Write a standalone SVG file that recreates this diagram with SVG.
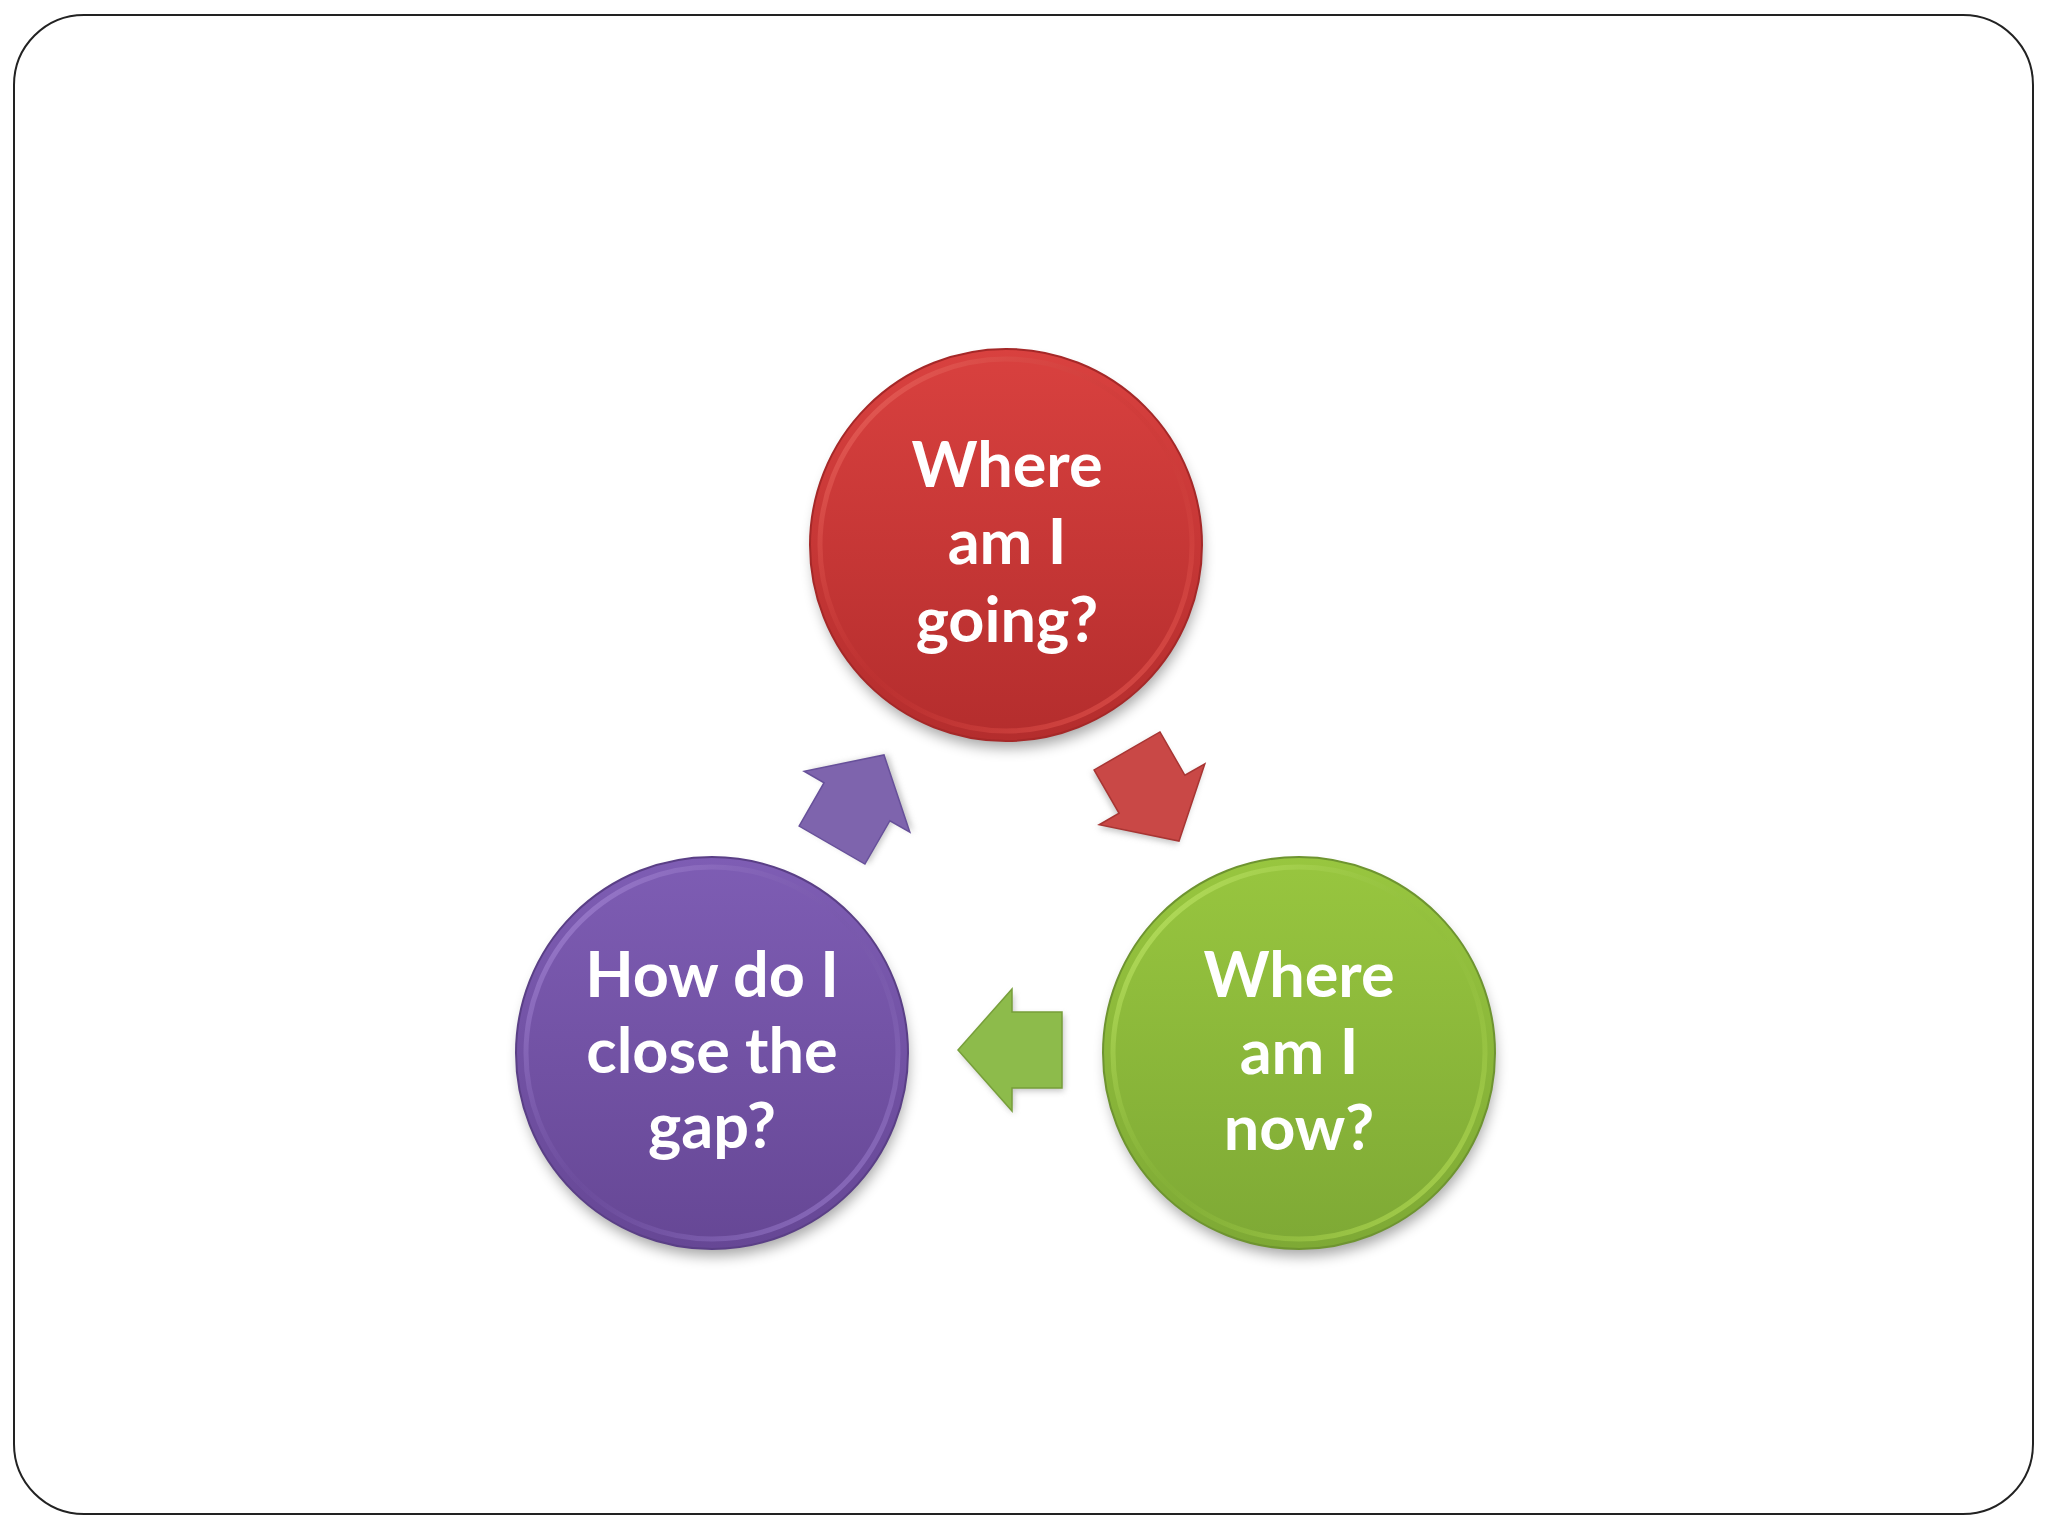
<svg xmlns="http://www.w3.org/2000/svg" width="2048" height="1536" viewBox="0 0 2048 1536">
<defs>
<style>
.lbl{font-family:Lato,"Open Sans","Liberation Sans",sans-serif;font-weight:bold;font-size:63px;fill:#ffffff;text-anchor:middle}
.rim{fill:none;stroke-width:5}
</style>
<filter id="sh" x="-30%" y="-30%" width="160%" height="160%"><feGaussianBlur stdDeviation="7"/></filter>
<filter id="ash" x="-30%" y="-30%" width="160%" height="160%"><feGaussianBlur stdDeviation="3"/></filter>
<linearGradient id="gRed" x1="0" y1="0" x2="0" y2="1"><stop offset="0" stop-color="#D9413F"/><stop offset="1" stop-color="#B42D2D"/></linearGradient>
<linearGradient id="rRed" x1="0" y1="0" x2="1" y2="1"><stop offset="0" stop-color="#EE6A62"/><stop offset="0.5" stop-color="#C73634" stop-opacity="0.2"/><stop offset="1" stop-color="#E0544E"/></linearGradient>
<linearGradient id="gGrn" x1="0" y1="0" x2="0" y2="1"><stop offset="0" stop-color="#98C63F"/><stop offset="1" stop-color="#7EA935"/></linearGradient>
<linearGradient id="rGrn" x1="0" y1="0" x2="1" y2="1"><stop offset="0" stop-color="#C4EB6A"/><stop offset="0.5" stop-color="#8EBB3C" stop-opacity="0.2"/><stop offset="1" stop-color="#B2DA55"/></linearGradient>
<linearGradient id="gPur" x1="0" y1="0" x2="0" y2="1"><stop offset="0" stop-color="#7E5DB4"/><stop offset="1" stop-color="#664795"/></linearGradient>
<linearGradient id="rPur" x1="0" y1="0" x2="1" y2="1"><stop offset="0" stop-color="#A98ADA"/><stop offset="0.5" stop-color="#7657A8" stop-opacity="0.2"/><stop offset="1" stop-color="#9678C8"/></linearGradient>
<path id="arr" d="M -52,-38 L -2,-38 L -2,-61 L 52,0 L -2,61 L -2,38 L -52,38 Z"/>
</defs>
<rect width="2048" height="1536" fill="#ffffff"/>
<rect x="14" y="15" width="2019" height="1499" rx="70" ry="70" fill="none" stroke="#222222" stroke-width="2"/>

<g id="connectors">
  <g transform="translate(1153,796) rotate(60)">
    <use href="#arr" fill="#888" opacity="0.5" filter="url(#ash)" transform="translate(2,3)"/>
    <use href="#arr" fill="#C94846" stroke="#A83533" stroke-width="1.5"/>
  </g>
  <g transform="translate(1010,1050) rotate(180)">
    <use href="#arr" fill="#888" opacity="0.5" filter="url(#ash)" transform="translate(-2,-3)"/>
    <use href="#arr" fill="#8DBB4B" stroke="#779F3A" stroke-width="1.5"/>
  </g>
  <g transform="translate(858,800) rotate(-60)">
    <use href="#arr" fill="#888" opacity="0.5" filter="url(#ash)" transform="translate(2,3)"/>
    <use href="#arr" fill="#7E64AD" stroke="#67509A" stroke-width="1.5"/>
  </g>
</g>

<g id="node-going">
  <circle cx="1008" cy="554" r="194" fill="#000" opacity="0.35" filter="url(#sh)"/>
  <circle cx="1006" cy="545" r="196" fill="url(#gRed)" stroke="#A52828" stroke-width="2"/>
  <circle cx="1006" cy="545" r="186" class="rim" stroke="url(#rRed)"/>
  <text class="lbl" x="1007" y="487">Where</text>
  <text class="lbl" x="1007" y="564">am I</text>
  <text class="lbl" x="1007" y="642">going?</text>
</g>

<g id="node-now">
  <circle cx="1301" cy="1062" r="194" fill="#000" opacity="0.35" filter="url(#sh)"/>
  <circle cx="1299" cy="1053" r="196" fill="url(#gGrn)" stroke="#6E9430" stroke-width="2"/>
  <circle cx="1299" cy="1053" r="186" class="rim" stroke="url(#rGrn)"/>
  <text class="lbl" x="1299" y="997">Where</text>
  <text class="lbl" x="1299" y="1074">am I</text>
  <text class="lbl" x="1299" y="1150">now?</text>
</g>

<g id="node-gap">
  <circle cx="714" cy="1062" r="194" fill="#000" opacity="0.35" filter="url(#sh)"/>
  <circle cx="712" cy="1053" r="196" fill="url(#gPur)" stroke="#5A3F86" stroke-width="2"/>
  <circle cx="712" cy="1053" r="186" class="rim" stroke="url(#rPur)"/>
  <text class="lbl" x="712" y="997">How do I</text>
  <text class="lbl" x="712" y="1073">close the</text>
  <text class="lbl" x="712" y="1148">gap?</text>
</g>
</svg>
